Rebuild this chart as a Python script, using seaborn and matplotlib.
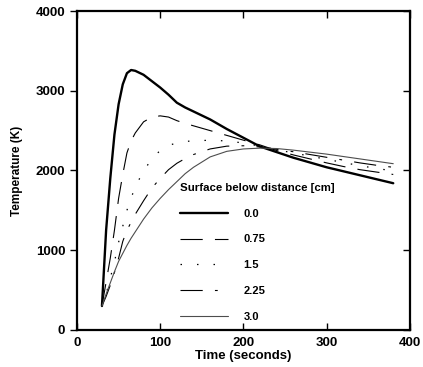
import matplotlib
matplotlib.use('Agg')
import matplotlib.pyplot as plt
import matplotlib.lines as mlines
import seaborn as sns
import numpy as np
import pandas as pd

# time axis (seconds), shared by all curves
time_s = [30, 35, 40, 45, 50, 55, 60, 65, 70, 80, 90, 100, 110, 120, 130, 140,
          160, 180, 200, 220, 240, 260, 280, 300, 320, 340, 360, 380]

# temperature (K) at each depth below the surface
temp_0_0 = [300, 1250, 1900, 2450, 2830, 3080, 3220, 3260, 3250, 3200, 3120, 3040, 2950, 2850,
            2790, 2740, 2640, 2520, 2410, 2300, 2230, 2160, 2100, 2040, 1990, 1940, 1890, 1840]
temp_0_75 = [300, 600, 900, 1250, 1650, 1950, 2220, 2370, 2470, 2610, 2670, 2685, 2670, 2625,
             2590, 2560, 2500, 2440, 2380, 2320, 2250, 2195, 2145, 2095, 2050, 2010, 1980, 1950]
temp_1_5 = [300, 450, 650, 850, 1100, 1300, 1500, 1650, 1800, 1990, 2150, 2250, 2310, 2350,
            2365, 2370, 2380, 2370, 2345, 2305, 2260, 2220, 2180, 2140, 2100, 2060, 2025, 1995]
temp_2_25 = [300, 420, 560, 720, 900, 1110, 1250, 1350, 1450, 1620, 1780, 1900, 2010, 2090,
             2150, 2200, 2270, 2305, 2310, 2295, 2265, 2235, 2200, 2165, 2130, 2095, 2065, 2040]
temp_3_0 = [300, 450, 590, 730, 860, 960, 1060, 1150, 1230, 1390, 1530, 1650, 1760, 1860,
            1960, 2040, 2170, 2240, 2270, 2280, 2275, 2255, 2230, 2205, 2175, 2145, 2115, 2085]

depth_labels = ['0.0', '0.75', '1.5', '2.25', '3.0']
series = [temp_0_0, temp_0_75, temp_1_5, temp_2_25, temp_3_0]

# line looks for each depth
styles = {
    '0.0':  dict(color='black', linewidth=1.7, linestyle='-'),
    '0.75': dict(color='black', linewidth=0.8, linestyle=(0, (20, 11))),
    '1.5':  dict(color='black', linewidth=0.9, linestyle=(0, (1.2, 12))),
    '2.25': dict(color='black', linewidth=0.8, linestyle=(0, (20, 11, 2.5, 11))),
    '3.0':  dict(color='0.3', linewidth=0.8, linestyle='-'),
}

sns.set_style('ticks')
plt.rcParams['font.family'] = ['Liberation Sans', 'DejaVu Sans']
plt.rcParams['font.weight'] = 'bold'
for key in ['text.color', 'axes.labelcolor', 'xtick.color', 'ytick.color']:
    plt.rcParams[key] = 'black'

fig = plt.figure(figsize=(4.23, 3.67), dpi=100)
ax = fig.add_axes([0.182, 0.101, 0.787, 0.869])

for lab, vals in zip(depth_labels, series):
    sns.lineplot(x=time_s, y=vals, ax=ax, label=lab, **styles[lab])

ax.set_xlim(0, 400)
ax.set_ylim(0, 4000)
ax.set_xticks([0, 100, 200, 300, 400])
ax.set_yticks([0, 1000, 2000, 3000, 4000])
ax.tick_params(axis='x', direction='in', top=True, length=5, width=1, labelsize=9.5, pad=5)
ax.tick_params(axis='y', direction='out', right=True, length=5, width=1, labelsize=9.5)
# right-hand ticks point inward like the original
for tk in ax.yaxis.get_major_ticks():
    tk.tick2line.set_marker(mlines.TICKLEFT)
for lbl in ax.get_xticklabels() + ax.get_yticklabels():
    lbl.set_fontweight('bold')
for sp in ax.spines.values():
    sp.set_linewidth(1.6)
    sp.set_color('black')

ax.set_xlabel('Time (seconds)', fontsize=9.5, fontweight='bold', labelpad=1)
ax.set_ylabel('Temperature (K)', fontsize=8.5, fontweight='bold', labelpad=9)

leg = ax.legend(title='Surface below distance [cm]', loc='upper left',
                bbox_to_anchor=(0.297, 0.475), frameon=False, fontsize=8,
                title_fontsize=8.2, handlelength=4.3, handletextpad=1.4,
                labelspacing=1.42, borderaxespad=0)
leg._legend_box.align = 'left'
leg.get_title().set_fontweight('bold')
for t in leg.get_texts():
    t.set_fontweight('bold')

fig.savefig('out.png', dpi=100)
